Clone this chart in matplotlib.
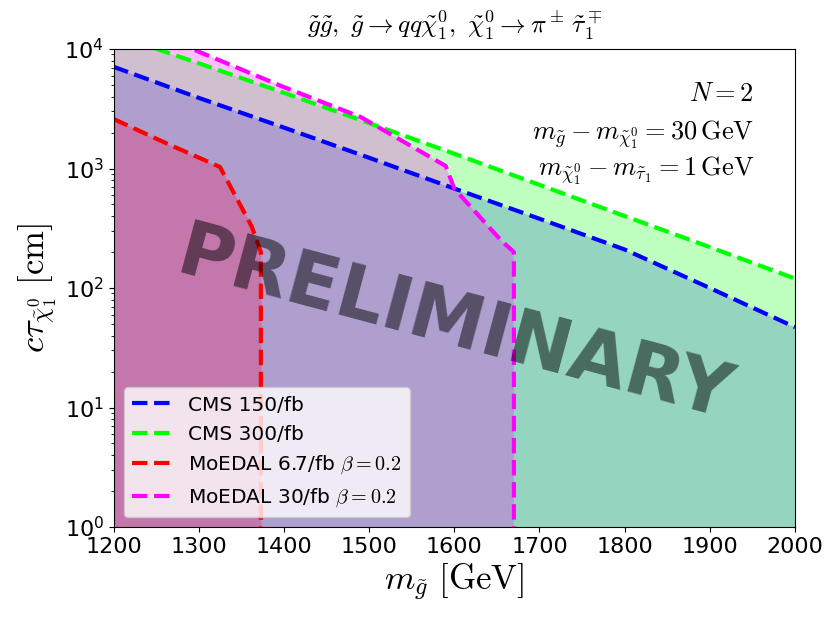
import matplotlib
matplotlib.use("Agg")
import matplotlib.pyplot as plt

plt.rcParams['mathtext.fontset'] = 'cm'

# gluino mass [GeV] vs c*tau [cm] exclusion curves
cms150_m = [1200, 1300, 1400, 1500, 1600, 1700, 1800, 1900, 2000]
cms150_ct = [7100, 3900, 2200, 1230, 680, 380, 210, 100, 47]

cms300_m = [1200, 1300, 1400, 1500, 1600, 1700, 1800, 1900, 2000]
cms300_ct = [13300, 7600, 4300, 2400, 1330, 730, 400, 220, 120]

moedal67_m = [1200, 1260, 1325, 1362, 1373, 1373]
moedal67_ct = [2600, 1650, 1030, 330, 200, 1]

moedal30_m = [1200, 1300, 1400, 1490, 1590, 1600, 1655, 1670, 1670]
moedal30_ct = [19000, 9500, 4800, 2700, 1050, 680, 250, 200, 1]

series = [
    (cms150_m, cms150_ct, 'blue', 0.22, 'CMS 150/fb'),
    (cms300_m, cms300_ct, 'lime', 0.25, 'CMS 300/fb'),
    (moedal67_m, moedal67_ct, 'red', 0.25, r'MoEDAL 6.7/fb $\beta=0.2$'),
    (moedal30_m, moedal30_ct, 'magenta', 0.25, r'MoEDAL 30/fb $\beta=0.2$'),
]

fig = plt.figure(figsize=(8.37, 6.23), dpi=100)
ax = fig.add_axes([113.5/837, 1-527/623, 681.5/837, 478/623])

for m, ct, col, a, lab in series:
    ax.fill_between(m, 1e-1, ct, color=col, alpha=a, lw=0)
    ax.plot(m, ct, '--', color=col, lw=3, label=lab)

ax.set_yscale('log')
ax.set_xlim(1200, 2000)
ax.set_ylim(1, 1e4)
ax.set_xticks(range(1200, 2001, 100))
ax.tick_params(labelsize=16)

ax.set_xlabel(r'$m_{\tilde{g}}\ [\mathrm{GeV}]$', fontsize=25)
ax.set_ylabel(r'$c\tau_{\tilde{\chi}^0_1}\ [\mathrm{cm}]$', fontsize=25)
ax.set_title(r'$\tilde{g}\tilde{g},\ \tilde{g}\to qq\tilde{\chi}^0_1,\ \tilde{\chi}^0_1\to\pi^\pm\,\tilde{\tau}_1^\mp$',
             fontsize=18.5, pad=11)

ax.text(0.94, 0.905, r'$N=2$', transform=ax.transAxes, ha='right', va='center', fontsize=19)
ax.text(0.94, 0.82, r'$m_{\tilde{g}}-m_{\tilde{\chi}^0_1}=30\,\mathrm{GeV}$', transform=ax.transAxes,
        ha='right', va='center', fontsize=19)
ax.text(0.94, 0.745, r'$m_{\tilde{\chi}^0_1}-m_{\tilde{\tau}_1}=1\,\mathrm{GeV}$', transform=ax.transAxes,
        ha='right', va='center', fontsize=19)

ax.text(0.5, 0.42, 'PRELIMINARY', transform=ax.transAxes, ha='center', va='center',
        fontsize=54, fontweight='bold', color='k', alpha=0.5, rotation=-15)

ax.legend(loc='lower left', fontsize=14.5)

fig.savefig('out.png', dpi=100)
